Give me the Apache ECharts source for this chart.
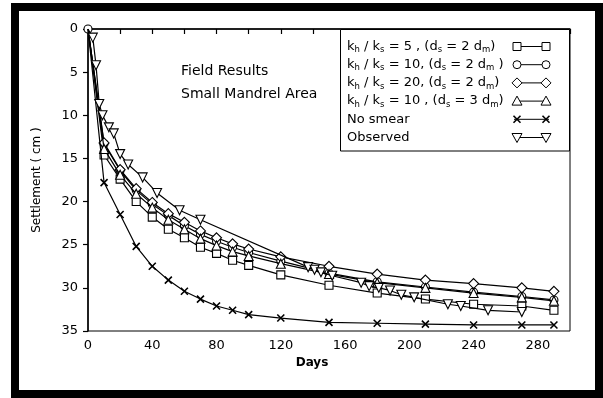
<!DOCTYPE html>
<html>
<head>
<meta charset="utf-8">
<script src="https://cdn.jsdelivr.net/npm/echarts@6/dist/echarts.min.js"></script>
<style>
html,body{margin:0;padding:0;background:#fff;}
#c{width:603px;height:398px;}
</style>
</head>
<body>
<div id="c"></div>
<script>
// ---- data (days, settlement in cm) ----
var modelDays = [0, 10, 20, 30, 40, 50, 60, 70, 80, 90, 100, 120, 150, 180, 210, 240, 270, 290];
var sq5_2   = [0, 14.6, 17.4, 20.0, 21.8, 23.2, 24.2, 25.3, 26.0, 26.8, 27.4, 28.5, 29.7, 30.6, 31.3, 31.9, 32.1, 32.6];
var ci10_2  = [0, 13.3, 16.4, 18.7, 20.3, 21.6, 22.8, 23.8, 24.6, 25.3, 25.9, 26.9, 28.3, 29.3, 29.9, 30.5, 31.0, 31.4];
var di20_2  = [0, 13.2, 16.3, 18.5, 20.1, 21.4, 22.4, 23.4, 24.2, 24.9, 25.5, 26.4, 27.5, 28.4, 29.1, 29.5, 30.0, 30.4];
var tr10_3  = [0, 13.9, 16.9, 19.1, 20.7, 22.1, 23.2, 24.3, 25.1, 25.8, 26.3, 27.2, 28.4, 29.4, 30.0, 30.6, 31.1, 31.5];
var noSmear = [0, 17.8, 21.5, 25.2, 27.5, 29.1, 30.4, 31.3, 32.1, 32.6, 33.1, 33.5, 34.0, 34.1, 34.2, 34.3, 34.3, 34.3];
var obsDays = [0, 3, 5, 7, 9, 13, 16, 20, 25, 34, 43, 57, 70, 137, 141, 145, 152, 170, 175, 181, 188, 195, 203, 224, 232, 249, 270];
var obsVals = [0, 1.0, 4.2, 8.7, 10.0, 11.4, 12.1, 14.5, 15.7, 17.2, 19.0, 21.0, 22.1, 27.6, 27.9, 28.2, 28.6, 29.4, 29.8, 30.0, 30.3, 30.8, 31.1, 31.9, 32.1, 32.6, 32.8];
var yTicks = [0, 5, 10, 15, 20, 25, 30, 35];
var xLabelDays = [0, 40, 80, 120, 160, 200, 240, 280];
var legendLabels = [
  'k{s|h} / k{s|s} = 5 , (d{s|s} = 2 d{s|m})',
  'k{s|h} / k{s|s} = 10, (d{s|s} = 2 d{s|m} )',
  'k{s|h} / k{s|s} = 20, (d{s|s} = 2 d{s|m})',
  'k{s|h} / k{s|s} = 10 , (d{s|s} = 3 d{s|m})',
  'No smear',
  'Observed'
];
var seriesNames = ['kh/ks=5, ds=2dm', 'kh/ks=10, ds=2dm', 'kh/ks=20, ds=2dm', 'kh/ks=10, ds=3dm', 'No smear', 'Observed'];
var noteLines = ['Field Results', 'Small Mandrel Area'];

var FONT = 'DejaVu Sans';
var chart = echarts.init(document.getElementById('c'));

function pairs(xs, ys, hideFirst) {
  return xs.map(function (x, i) {
    if (i === 0 && hideFirst) return { value: [x, ys[i]], symbol: 'none' };
    return [x, ys[i]];
  });
}

var markerKinds = ['square', 'circle', 'diamond', 'triangle', 'x', 'tdown'];
var symbolDefs = {
  square:   { symbol: 'rect', size: 8 },
  circle:   { symbol: 'circle', size: 8 },
  diamond:  { symbol: 'diamond', size: 10 },
  triangle: { symbol: 'triangle', size: 9 },
  x:        { symbol: 'path://M0,0L10,10M0,10L10,0', size: 7 },
  tdown:    { symbol: 'triangle', size: 9, rotate: 180 }
};
var seriesData = [
  pairs(modelDays, sq5_2, true),
  pairs(modelDays, ci10_2, false),
  pairs(modelDays, di20_2, true),
  pairs(modelDays, tr10_3, true),
  pairs(modelDays, noSmear, true),
  pairs(obsDays, obsVals, true)
];

var series = seriesData.map(function (d, i) {
  var sd = symbolDefs[markerKinds[i]];
  return {
    name: seriesNames[i],
    type: 'line',
    data: d,
    symbol: sd.symbol,
    symbolSize: sd.size,
    symbolRotate: sd.rotate || 0,
    showAllSymbol: true,
    lineStyle: { color: '#000', width: 1.2 },
    itemStyle: { color: '#fff', borderColor: '#000', borderWidth: markerKinds[i] === 'x' ? 1.6 : 1.1 },
    z: 2 + i,
    emphasis: { disabled: true }
  };
});

// ---- legend drawn as graphic (text left, marker-line-marker right) ----
function markerGraphic(kind, x, y) {
  var st = { fill: '#fff', stroke: '#000', lineWidth: 1 };
  if (kind === 'square') return [{ type: 'rect', shape: { x: x - 4, y: y - 4, width: 8, height: 8 }, style: st, z: 20 }];
  if (kind === 'circle') return [{ type: 'circle', shape: { cx: x, cy: y, r: 4 }, style: st, z: 20 }];
  if (kind === 'diamond') return [{ type: 'polygon', shape: { points: [[x, y - 5], [x + 5, y], [x, y + 5], [x - 5, y]] }, style: st, z: 20 }];
  if (kind === 'triangle') return [{ type: 'polygon', shape: { points: [[x, y - 5], [x + 5, y + 4], [x - 5, y + 4]] }, style: st, z: 20 }];
  if (kind === 'tdown') return [{ type: 'polygon', shape: { points: [[x - 5, y - 4], [x + 5, y - 4], [x, y + 5]] }, style: st, z: 20 }];
  return [
    { type: 'line', shape: { x1: x - 3.5, y1: y - 3.5, x2: x + 3.5, y2: y + 3.5 }, style: { stroke: '#000', lineWidth: 1.6 }, z: 20 },
    { type: 'line', shape: { x1: x - 3.5, y1: y + 3.5, x2: x + 3.5, y2: y - 3.5 }, style: { stroke: '#000', lineWidth: 1.6 }, z: 20 }
  ];
}

var graphics = [];
// outer thick frame
graphics.push({ type: 'rect', shape: { x: 15, y: 7, width: 584, height: 387 }, style: { fill: 'none', stroke: '#000', lineWidth: 8 }, z: 30, silent: true });
// legend box
graphics.push({ type: 'rect', shape: { x: 340.5, y: 29.5, width: 229, height: 121.5 }, style: { fill: '#fff', stroke: '#000', lineWidth: 1 }, z: 15 });
legendLabels.forEach(function (lab, i) {
  var y = 46.5 + i * 18.2;
  graphics.push({
    type: 'text', x: 347, y: y, z: 20,
    style: {
      text: lab, fill: '#000', fontFamily: FONT, fontSize: 13,
      verticalAlign: 'middle', align: 'left', lineHeight: 16,
      rich: { s: { fontSize: 8.5, fontFamily: FONT, verticalAlign: 'bottom', lineHeight: 9, fill: '#000' } }
    }
  });
  graphics.push({ type: 'line', shape: { x1: 514, y1: y, x2: 549, y2: y }, style: { stroke: '#000', lineWidth: 1 }, z: 19 });
  graphics = graphics.concat(markerGraphic(markerKinds[i], 517, y), markerGraphic(markerKinds[i], 546, y));
});
noteLines.forEach(function (t, i) {
  graphics.push({ type: 'text', x: 181, y: 71 + i * 23.5, z: 20,
    style: { text: t, fill: '#000', fontFamily: FONT, fontSize: 14, verticalAlign: 'middle', align: 'left' } });
});

var option = {
  animation: false,
  backgroundColor: '#fff',
  grid: { left: 88, right: 33, top: 29, bottom: 67, show: true, borderColor: '#000', borderWidth: 1, backgroundColor: 'transparent' },
  xAxis: {
    type: 'value', min: 0, max: 300, interval: 20,
    name: 'Days', nameLocation: 'middle', nameGap: 26,
    nameTextStyle: { fontFamily: FONT, fontSize: 12, fontWeight: 'bold', color: '#000', padding: [0, 34, 0, 0] },
    axisLine: { lineStyle: { color: '#000', width: 1.5 } },
    axisTick: { show: true, length: 5, inside: false, lineStyle: { color: '#000', width: 1.2 } },
    axisLabel: { margin: 8, fontFamily: FONT, fontSize: 13, color: '#000',
      formatter: function (v) { return xLabelDays.indexOf(v) >= 0 ? String(v) : ''; } },
    splitLine: { show: false }
  },
  yAxis: {
    type: 'value', min: 0, max: 35, interval: 5, inverse: true,
    name: 'Settlement ( cm )', nameLocation: 'middle', nameGap: 45,
    nameTextStyle: { fontFamily: FONT, fontSize: 12, color: '#000' },
    axisLine: { show: true, lineStyle: { color: '#000', width: 1.5 } },
    axisTick: { show: true, length: 5, inside: false, lineStyle: { color: '#000', width: 1.2 } },
    axisLabel: { margin: 10, fontFamily: FONT, fontSize: 13, color: '#000',
      formatter: function (v) { return yTicks.indexOf(v) >= 0 ? String(v) : ''; } },
    splitLine: { show: false }
  },
  series: series,
  graphic: graphics
};
chart.setOption(option);
</script>
</body>
</html>
